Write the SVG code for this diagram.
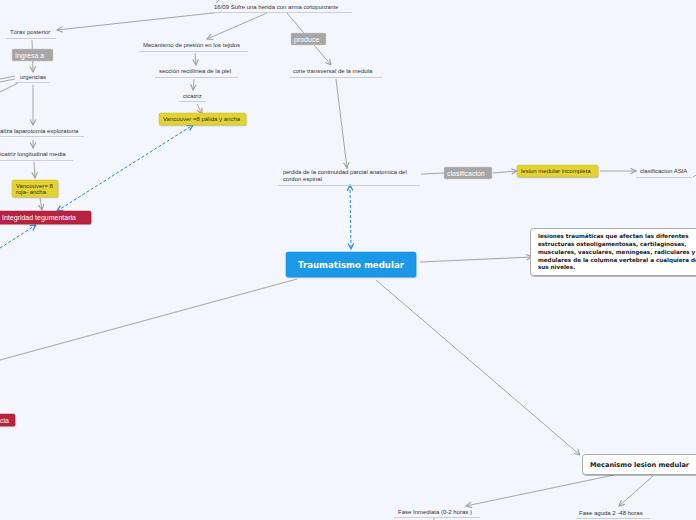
<svg xmlns="http://www.w3.org/2000/svg" width="696" height="520" viewBox="0 0 696 520">
<defs>
<marker id="ag" viewBox="0 0 10 10" refX="9" refY="5" markerWidth="7" markerHeight="7" orient="auto-start-reverse" markerUnits="userSpaceOnUse"><path d="M1,1 L9,5 L1,9" fill="none" stroke="#a0a0a0" stroke-width="1.6"/></marker>
<marker id="ab" viewBox="0 0 10 10" refX="9" refY="5" markerWidth="7" markerHeight="7" orient="auto-start-reverse" markerUnits="userSpaceOnUse"><path d="M1,1 L9,5 L1,9" fill="none" stroke="#2a88e0" stroke-width="1.6"/></marker>
<filter id="sh" x="-10%" y="-20%" width="120%" height="150%"><feDropShadow dx="0.5" dy="1" stdDeviation="0.6" flood-color="#000" flood-opacity="0.25"/></filter>
</defs>
<style>
.t{font-family:"Liberation Sans",Arial,sans-serif;font-size:6px;fill:#333}
.ul{stroke:#c9ced8;stroke-width:1}
.c{stroke:#a6a6a6;stroke-width:1;fill:none}
.cb{stroke:#2a88e0;stroke-width:1;stroke-dasharray:3,2;fill:none}
.gl{fill:#a6a6a6;stroke:#c8c8c8;stroke-width:0.5}
.glt{font-family:"Liberation Sans",Arial,sans-serif;font-size:7px;fill:#fff}
.yl{fill:#e2d230;stroke:#cbbd1e;stroke-width:0.5}
.rd{fill:#b8243f;stroke:#981830;stroke-width:0.5}
.bt{font-family:"DejaVu Sans",sans-serif;font-weight:bold;fill:#222}
</style>
<rect width="696" height="520" fill="#f3f6fd"/>

<g id="connectors">
<path class="c" d="M216,3 L219,0"/>
<path class="c" d="M222,12 L57,30" marker-end="url(#ag)"/>
<path class="c" d="M32,40 L33,72" marker-end="url(#ag)"/>
<path class="c" d="M15,76 L0,79"/>
<path class="c" d="M15,79 L0,82"/>
<path class="c" d="M18,83 L0,92"/>
<path class="c" d="M33,85 L33,125" marker-end="url(#ag)"/>
<path class="c" d="M33,140 L33,148" marker-end="url(#ag)"/>
<path class="c" d="M34,162 L35,178" marker-end="url(#ag)"/>
<path class="c" d="M40,198 L42,210" marker-end="url(#ag)"/>
<path class="c" d="M267,13 L207,39" marker-end="url(#ag)"/>
<path class="c" d="M195,53 L196,65" marker-end="url(#ag)"/>
<path class="c" d="M194,79 L193,90" marker-end="url(#ag)"/>
<path class="c" d="M197,104 L202,114" marker-end="url(#ag)"/>
<path class="c" d="M287,13 L331,65" marker-end="url(#ag)"/>
<path class="c" d="M336,79 L347,168" marker-end="url(#ag)"/>
<path class="c" d="M421,174 L445,173"/>
<path class="c" d="M493,173 L517,171" marker-end="url(#ag)"/>
<path class="c" d="M600,171 L636,171" marker-end="url(#ag)"/>
<path class="c" d="M693,177 L696,175"/>
<path class="c" d="M420,262 L532,257" marker-end="url(#ag)"/>
<path class="c" d="M297,279 L0,360"/>
<path class="c" d="M376,280 L580,455" marker-end="url(#ag)"/>
<path class="c" d="M614,475 L466,506" marker-end="url(#ag)"/>
<path class="c" d="M653,476 L619,506" marker-end="url(#ag)"/>
<path class="c" d="M434,518 L434,520"/>
<path class="cb" d="M57,211 L193,125" marker-start="url(#ab)" marker-end="url(#ab)"/>
<path class="cb" d="M0,248 L36,225" marker-end="url(#ab)"/>
<path class="cb" d="M350,185 L351,249" marker-start="url(#ab)" marker-end="url(#ab)"/>
<g id="lbl-ingresa"><rect class="gl" x="12" y="49" width="41" height="12" rx="1.5"/><text class="glt" x="15" y="57.5">Ingresa a</text></g>
<g id="lbl-produce"><rect class="gl" x="291" y="33" width="35" height="12" rx="1.5"/><text class="glt" x="294" y="41.5">produce</text></g>
<g id="lbl-clasif"><rect class="gl" x="444" y="167" width="48" height="12" rx="1.5"/><text class="glt" x="447" y="175.5">clasificación</text></g>
</g>

<g id="n-herida"><text class="t" x="214" y="9">16/09 Sufre una herida con arma <tspan font-size="5.5">cortopunzante</tspan></text><line class="ul" x1="210" y1="12.5" x2="352" y2="12.5"/></g>
<g id="n-torax"><text class="t" x="10" y="33.5">Tórax posterior</text><line class="ul" x1="6" y1="38.5" x2="56" y2="38.5"/></g>
<g id="n-urgencias"><text class="t" x="20" y="79">urgencias</text><line class="ul" x1="15" y1="82.5" x2="50" y2="82.5"/></g>
<g id="n-laparotomia"><text class="t" x="0" y="133">aliza laparotomia exploratoria</text><line class="ul" x1="0" y1="136.5" x2="84" y2="136.5"/></g>
<g id="n-cicatriz-long"><text class="t" x="0" y="156">icatriz longitudinal media</text><line class="ul" x1="0" y1="160.5" x2="73" y2="160.5"/></g>
<g id="n-vanc8"><rect class="yl" x="12" y="180" width="46" height="17" rx="2" filter="url(#sh)"/><text class="t" x="16" y="188" fill="#333">Vancouver= 8</text><text class="t" x="16" y="194">roja- ancha</text></g>
<g id="n-integridad"><rect class="rd" x="-4" y="211" width="95" height="13" rx="1.5" filter="url(#sh)"/><text class="glt" x="2" y="220" font-size="7.2">Integridad tegumentaria</text></g>
<g id="n-mecanismo-presion"><text class="t" x="143" y="47">Mecanismo de presión en los tejidos</text><line class="ul" x1="139" y1="51.5" x2="248" y2="51.5"/></g>
<g id="n-seccion"><text class="t" x="159" y="73">sección rectilínea de la piel</text><line class="ul" x1="155" y1="77.5" x2="238" y2="77.5"/></g>
<g id="n-cicatriz"><text class="t" x="183" y="98">cicatriz</text><line class="ul" x1="179" y1="101.5" x2="206" y2="101.5"/></g>
<g id="n-vanc-palida"><rect class="yl" x="159" y="113" width="87" height="12" rx="2" filter="url(#sh)"/><text class="t" x="163" y="121">Vancouver  =8 pálida y ancha</text></g>
<g id="n-corte"><text class="t" x="293" y="73"><tspan font-size="5.5">corte</tspan> transversal de la medula</text><line class="ul" x1="290" y1="77.5" x2="382" y2="77.5"/></g>
<g id="n-perdida"><text class="t" x="283" y="174"><tspan font-size="5.5">perdida</tspan> de la continuidad parcial  anatomica del</text><text class="t" x="283" y="181">cordon espinal</text><line class="ul" x1="278" y1="185.5" x2="420" y2="185.5"/></g>
<g id="n-incompleta"><rect class="yl" x="517" y="165" width="81" height="12" rx="2" filter="url(#sh)"/><text class="t" x="521" y="173">lesion medular incompleta</text></g>
<g id="n-asia"><text class="t" x="640" y="173">clasificacion ASIA</text><line class="ul" x1="636" y1="177.5" x2="692" y2="177.5"/></g>
<g id="n-trauma"><rect x="286" y="252" width="130" height="25" rx="2" fill="#1b98e8" stroke="#1688d2" stroke-width="0.5" filter="url(#sh)"/><text x="351" y="268" text-anchor="middle" font-family="DejaVu Sans,sans-serif" font-weight="bold" font-size="8.6" fill="#fff">Traumatismo medular</text></g>
<g id="n-def"><rect x="530.5" y="228.5" width="175" height="47" rx="3" fill="#fff" stroke="#a8a8a8" stroke-width="1" filter="url(#sh)"/>
<text class="bt" font-size="5.6" x="538"><tspan x="538" y="238">lesiones traumáticas que afectan las diferentes</tspan><tspan x="538" y="246">estructuras osteoligamentosas, cartilaginosas,</tspan><tspan x="538" y="254">musculares, vasculares, meníngeas, radiculares y</tspan><tspan x="538" y="262">medulares de la columna vertebral a cualquiera de</tspan><tspan x="538" y="269">sus niveles.</tspan></text></g>
<g id="n-cia"><rect class="rd" x="-10" y="414" width="25" height="12" rx="1.5" filter="url(#sh)"/><text class="glt" x="0" y="422.5" font-size="6.5">cia</text></g>
<g id="n-mecanismo-lesion"><rect x="582.5" y="454.5" width="120" height="20" rx="3" fill="#fff" stroke="#a8a8a8" stroke-width="1" filter="url(#sh)"/><text class="bt" font-size="6.6" x="590" y="467">Mecanismo lesion medular</text></g>
<g id="n-inmediata"><text class="t" x="398" y="514" font-size="5.5">Fase Inmediata (0-2 horas )</text><line class="ul" x1="394" y1="517.5" x2="480" y2="517.5"/></g>
<g id="n-aguda"><text class="t" x="579" y="515" font-size="5.5">Fase aguda 2 -48 horas</text><line class="ul" x1="576" y1="518.5" x2="650" y2="518.5"/></g>
</svg>
